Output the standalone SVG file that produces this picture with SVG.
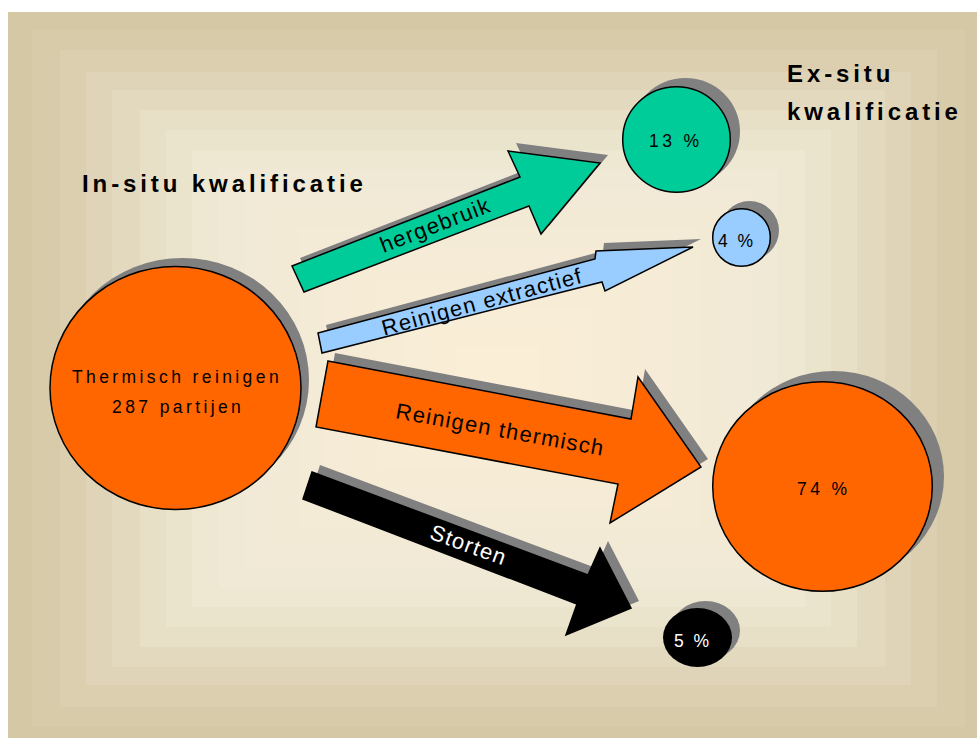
<svg xmlns="http://www.w3.org/2000/svg" width="977" height="738" viewBox="0 0 977 738">
<style>
.sh{fill:#808080}
.ol{stroke:#000;stroke-width:1.5;stroke-linejoin:miter}
.t{font-family:"Liberation Sans",Arial,sans-serif}
.title{font-size:24px;font-weight:bold;letter-spacing:3.9px;fill:#000}
.ct{font-size:17.5px;letter-spacing:3.4px;fill:#000}
.al{font-size:22px;letter-spacing:1.3px;text-anchor:middle}
</style>
<rect width="977" height="738" fill="#fff"/>
<g id="background">
<rect x="8" y="12" width="981" height="733" fill="#d5c8a5"/>
<rect x="32" y="30" width="933" height="697" fill="#d8cbaa"/>
<rect x="60" y="50" width="877" height="657" fill="#dbcfb0"/>
<rect x="86" y="72" width="825" height="613" fill="#dfd4b7"/>
<rect x="112" y="90" width="773" height="577" fill="#e3d9be"/>
<rect x="140" y="110" width="717" height="537" fill="#e7dfc6"/>
<rect x="166" y="130" width="665" height="497" fill="#ebe4cd"/>
<rect x="192" y="150" width="613" height="457" fill="#eee7d2"/>
<rect x="219" y="169" width="559" height="419" fill="#f0e9d5"/>
<rect x="245" y="189" width="507" height="379" fill="#f2ead6"/>
<rect x="272" y="209" width="453" height="339" fill="#f3ead6"/>
<rect x="298" y="228" width="401" height="301" fill="#f4ebd6"/>
<rect x="324" y="248" width="349" height="261" fill="#f5ebd6"/>
<rect x="351" y="268" width="295" height="221" fill="#f6ecd6"/>
<rect x="377" y="287" width="243" height="183" fill="#f7ecd6"/>
<rect x="404" y="307" width="189" height="143" fill="#f8edd6"/>
<rect x="430" y="327" width="137" height="103" fill="#f9edd6"/>
<rect x="456" y="346" width="85" height="65" fill="#faeed6"/>
<rect x="483" y="366" width="31" height="25" fill="#fbeed6"/>
</g>
<g id="titles" class="t">
<text class="title" x="82" y="192">In-situ kwalificatie</text>
<text class="title" x="787" y="82">Ex-situ</text>
<text class="title" x="787" y="120">kwalificatie</text>
</g>
<g id="connectors">
<g id="arrow-hergebruik">
<polygon class="sh" transform="translate(8,-8)" points="292,266 520,177 508,151 600,163 541,234 529,206 304,292"/>
<polygon class="ol" fill="#00cc99" points="292,266 520,177 508,151 600,163 541,234 529,206 304,292"/>
<text class="t al" fill="#000" transform="translate(438,232) rotate(-21)">hergebruik</text>
</g>
<g id="arrow-extractief">
<polygon class="sh" transform="translate(8,-8)" points="318,333 595,259 596,251 693,247 605,291 602,282 322,353"/>
<polygon class="ol" fill="#99ccff" points="318,333 595,259 596,251 693,247 605,291 602,282 322,353"/>
<text class="t al" fill="#000" transform="translate(484,309) rotate(-15)">Reinigen extractief</text>
</g>
<g id="arrow-thermisch">
<polygon class="sh" transform="translate(7,-8)" points="328,361 631,419 638,377 701,467 610,523 618,484 316,427"/>
<polygon class="ol" fill="#ff6600" points="328,361 631,419 638,377 701,467 610,523 618,484 316,427"/>
<text class="t al" fill="#000" transform="translate(499,437) rotate(10.3)">Reinigen thermisch</text>
</g>
<g id="arrow-storten">
<polygon class="sh" transform="translate(8,-7)" points="312,472 588,575 600,548 631,608 566,635 577,604 303,499"/>
<polygon class="ol" fill="#000" points="312,472 588,575 600,548 631,608 566,635 577,604 303,499"/>
<text class="t al" fill="#fff" transform="translate(466,552) rotate(20)">Storten</text>
</g>
</g>
<g id="node-thermisch">
<ellipse class="sh" cx="182.5" cy="380" rx="126.5" ry="122"/>
<ellipse class="ol" fill="#ff6600" cx="175.5" cy="388" rx="125.5" ry="121.5"/>
<text class="t ct" x="72" y="383">Thermisch reinigen</text>
<text class="t ct" x="112" y="413">287 partijen</text>
</g>
<g id="node-13">
<ellipse class="sh" cx="685.5" cy="131.5" rx="54.5" ry="53.5"/>
<ellipse class="ol" fill="#00cc99" cx="676.5" cy="139.5" rx="53.8" ry="52.8"/>
<text class="t ct" x="649" y="147">13 %</text>
</g>
<g id="node-4">
<circle class="sh" cx="749.5" cy="230.5" r="29.5"/>
<circle class="ol" fill="#99ccff" cx="741.5" cy="237.5" r="28.8"/>
<text class="t ct" x="718" y="247" style="letter-spacing:2.4px">4 %</text>
</g>
<g id="node-74">
<ellipse class="sh" cx="833.5" cy="476.5" rx="110.5" ry="105.5"/>
<ellipse class="ol" fill="#ff6600" cx="822.5" cy="486.5" rx="109.8" ry="104.8"/>
<text class="t ct" x="797" y="495">74 %</text>
</g>
<g id="node-5">
<ellipse class="sh" cx="705.5" cy="630.5" rx="34.5" ry="29.5"/>
<ellipse fill="#000" cx="697.5" cy="637.5" rx="34.5" ry="29.5"/>
<text class="t ct" x="674" y="647" style="fill:#fff;letter-spacing:2.4px">5 %</text>
</g>
</svg>
